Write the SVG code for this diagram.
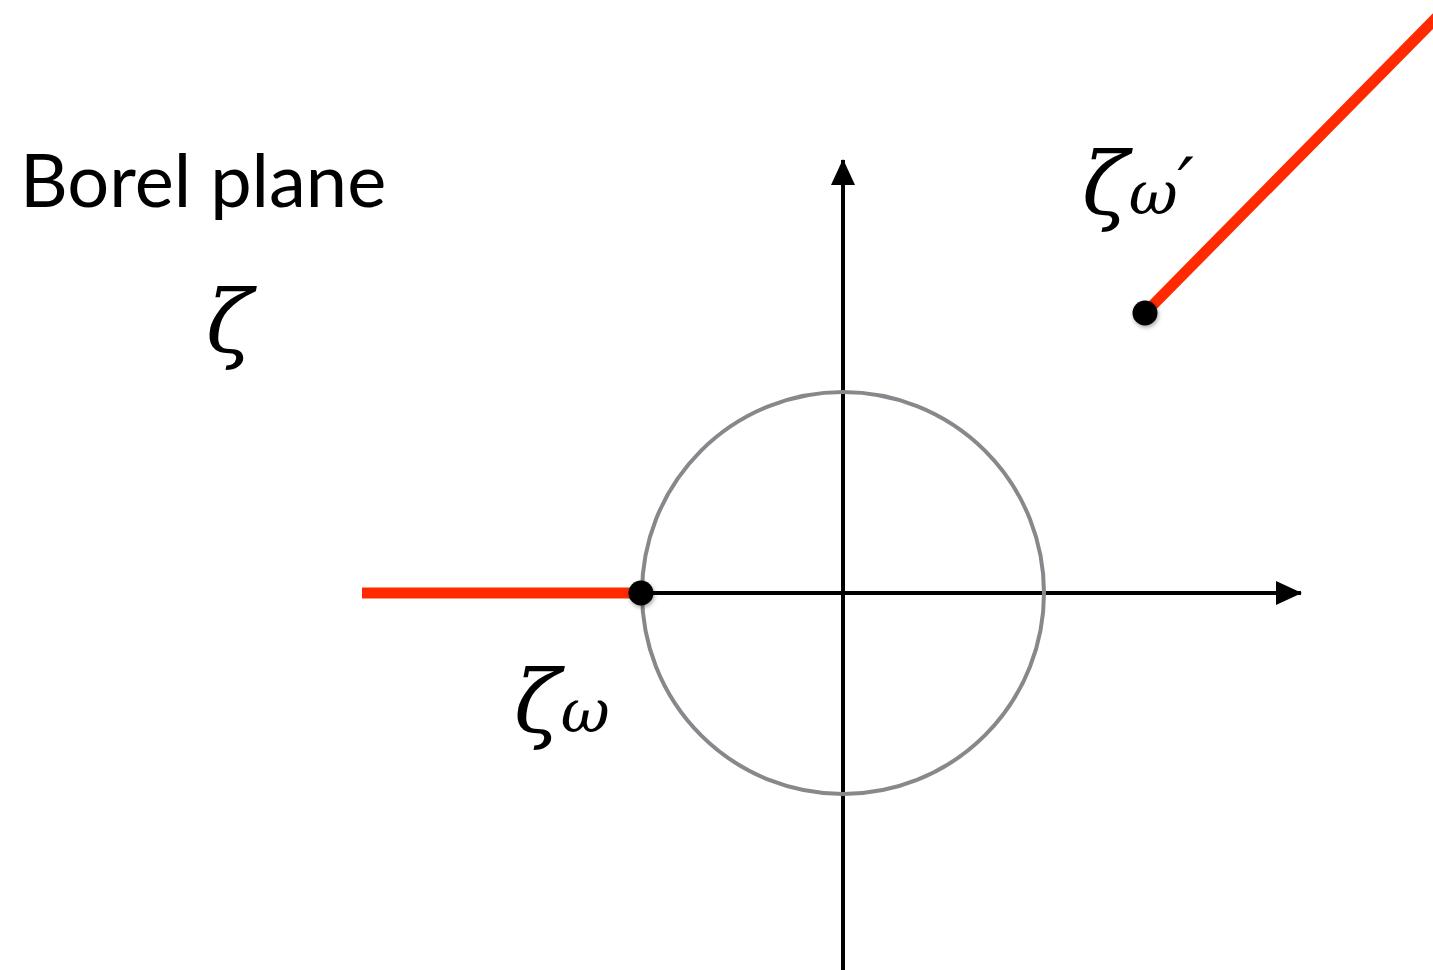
<svg xmlns="http://www.w3.org/2000/svg" width="1433" height="970" viewBox="0 0 1433 970">
<style>
.axis{stroke:#000;stroke-width:4;fill:none}
.cut{stroke:#ff2a00;stroke-width:11;fill:none}
.circ{stroke:#88888c;stroke-width:4;fill:none}
.dot{fill:#000}
.title{font-family:Lato,"Noto Sans",sans-serif;font-size:74px;fill:#000}
.math{font-family:"DejaVu Serif","Liberation Serif",serif;font-style:italic;fill:#000}
</style>
<defs>
<marker id="ah" markerWidth="26" markerHeight="24" refX="25" refY="12" orient="auto" markerUnits="userSpaceOnUse">
<path d="M0,0 L26,12 L0,24 Z" fill="#000"/>
</marker>
<filter id="sh" x="-50%" y="-50%" width="200%" height="200%">
<feDropShadow dx="1" dy="2" stdDeviation="2" flood-opacity="0.35"/>
</filter>
</defs>
<g id="title"><text class="title" x="20" y="207">Borel plane</text></g>
<g id="zeta-label"><text class="math" x="206" y="352" font-size="86">ζ</text></g>
<g id="connectors">
<line class="cut" x1="362" y1="593" x2="641" y2="593"/>
<line class="cut" x1="1145" y1="313" x2="1440" y2="14"/>
<line class="axis" x1="641" y1="593" x2="1301" y2="593" marker-end="url(#ah)"/>
<line class="axis" x1="843" y1="970" x2="843" y2="160" marker-end="url(#ah)"/>
</g>
<g id="circle"><circle class="circ" cx="843" cy="593" r="201"/></g>
<g id="point-w"><circle class="dot" cx="641" cy="593" r="12.5" filter="url(#sh)"/>
<text class="math" x="514" y="732" font-size="86">ζ<tspan font-size="60">ω</tspan></text></g>
<g id="point-wp"><circle class="dot" cx="1145" cy="313" r="12.5" filter="url(#sh)"/>
<text class="math" x="1082" y="214" font-size="86">ζ<tspan font-size="60">ω</tspan><tspan font-size="72" dy="-4">′</tspan></text></g>
</svg>
